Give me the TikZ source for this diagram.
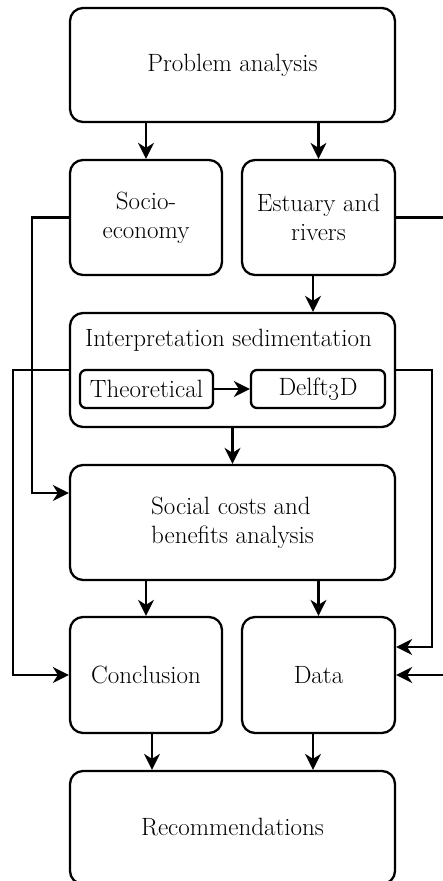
\documentclass[tikz,border=0pt]{standalone}
\usetikzlibrary{arrows.meta,calc}
\begin{document}
\begin{tikzpicture}[x=1pt,y=-1pt,
  txt/.style={font=\fontsize{25}{29}\selectfont, align=center, text=black},
  bigbox/.style={draw, line width=2.3pt, rounded corners=13pt, txt, inner sep=0pt},
  smallbox/.style={draw, line width=2.3pt, rounded corners=6pt, txt, inner sep=0pt},
  arr/.style={line width=2.2pt, -{Stealth[length=16pt,width=16pt,inset=5pt]}}]
\useasboundingbox (0,0) rectangle (443,881);
\clip (0,0) rectangle (443,881);
\node[bigbox, minimum width=325pt, minimum height=114pt] (pa) at (232.5,65) {Problem analysis};
\node[bigbox, minimum width=152pt, minimum height=115pt] (socio) at (146,217.5) {Socio-\\economy};
\node[bigbox, minimum width=153pt, minimum height=115pt] (est) at (318.5,217.5) {Estuary and\\rivers};
\node[bigbox, minimum width=325pt, minimum height=114pt] (interp) at (232.5,370) {};
\node[txt] (ititle) at (228.5,340) {Interpretation sedimentation};
\node[smallbox, minimum width=133pt, minimum height=38pt] (theo) at (146.5,389) {Theoretical};
\node[smallbox, minimum width=134pt, minimum height=38pt] (delft) at (318,389) {Delft\oldstylenums{3}D};
\node[bigbox, minimum width=325pt, minimum height=115pt, align=left] (social) at (232.5,522.5) {Social costs and\\benefits analysis};
\node[bigbox, minimum width=152pt, minimum height=116pt] (conc) at (146,675) {Conclusion};
\node[bigbox, minimum width=153pt, minimum height=116pt] (data) at (318.5,675) {Data};
\node[bigbox, minimum width=325pt, minimum height=113pt] (rec) at (232.5,827.5) {Recommendations};

\draw[arr] (socio.north |- pa.south) -- (socio.north);
\draw[arr] (est.north |- pa.south) -- (est.north);
\draw[arr] ([xshift=-5.5pt]est.south) -- ([xshift=-5.5pt]est.south |- interp.north);
\draw[arr] (theo.east) -- (delft.west);
\draw[arr] (interp.south) -- (social.north);
\draw[arr] (conc.north |- social.south) -- (conc.north);
\draw[arr] (data.north |- social.south) -- (data.north);
\draw[arr] ([xshift=6pt]conc.south) -- ([xshift=6pt]conc.south |- rec.north);
\draw[arr] ([xshift=-5.5pt]data.south) -- ([xshift=-5.5pt]data.south |- rec.north);

\coordinate (sL) at (32,0);
\coordinate (sY) at (0,493);
\draw[arr] (socio.west) -| (sL |- sY) -- (social.west |- sY);
\coordinate (eR) at (455,0);
\draw[arr] (est.east) -| (eR |- data.east) -- (data.east);
\coordinate (iL) at (13,0);
\draw[arr] (interp.west) -| (iL |- conc.west) -- (conc.west);
\coordinate (iR) at (432,0);
\coordinate (dY) at (0,647);
\draw[arr] (interp.east) -| (iR |- dY) -- (data.east |- dY);
\end{tikzpicture}
\end{document}
